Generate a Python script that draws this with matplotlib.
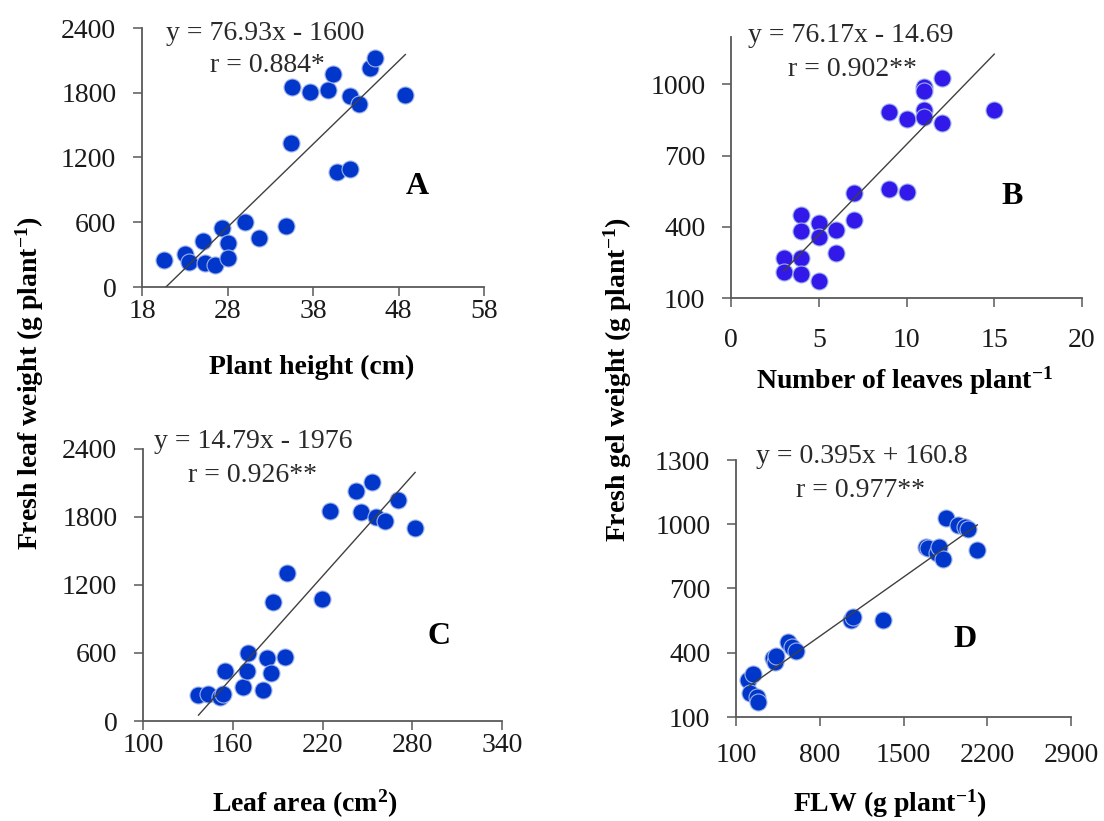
import matplotlib
matplotlib.use('Agg')
import matplotlib.pyplot as plt
import numpy as np

plt.rcParams['font.family'] = ['Liberation Serif', 'DejaVu Serif']
plt.rcParams['mathtext.fontset'] = 'custom'
plt.rcParams['mathtext.rm'] = 'Liberation Serif'
plt.rcParams['mathtext.bf'] = 'Liberation Serif:bold'
plt.rcParams['mathtext.it'] = 'Liberation Serif:italic'

# ---------------- data ----------------
# Panel A: plant height (cm) vs fresh leaf weight
a_x = [20.6, 23.0, 23.5, 25.1, 25.4, 26.5, 27.3, 28.0, 28.0, 30.0, 31.7, 34.8,
       35.4, 35.6, 37.7, 39.8, 40.3, 40.8, 42.3, 42.3, 43.4, 44.7, 45.2, 48.8]
a_y = [253, 308, 231, 422, 222, 206, 551, 407, 268, 601, 453, 567,
       1331, 1855, 1808, 1830, 1972, 1069, 1091, 1768, 1694, 2030, 2123, 1778]
a_fit = (76.93, -1600)

# Panel B: number of leaves vs fresh gel weight
b_x = [3, 3, 4, 4, 4, 4, 5, 5, 5, 6, 6, 7, 7, 9, 9, 10, 10, 11, 11, 11, 11, 12, 12, 15]
b_y = [269, 210, 449, 383, 269, 203, 416, 357, 172, 386, 290, 543, 428,
       885, 561, 854, 547, 990, 973, 892, 864, 1028, 838, 892]
b_fit = (76.17, -14.69)

# Panel C: leaf area vs fresh leaf weight
c_x = [137.1, 143.5, 151.3, 153.6, 155.1, 167.0, 169.2, 170.3, 180.4, 182.6, 185.9,
       187.1, 194.9, 196.4, 219.4, 225.0, 242.4, 245.8, 252.9, 255.8, 261.8, 270.3, 281.9]
c_y = [230, 236, 215, 236, 445, 297, 445, 604, 274, 554, 427,
       1054, 568, 1310, 1075, 1855, 2026, 1840, 2105, 1799, 1761, 1952, 1702]
c_fit = (14.79, -1976)

# Panel D: FLW vs fresh gel weight
d_x = [203, 217, 245, 278, 287, 406, 426, 434, 537, 565, 602, 1061, 1081, 1326,
       1688, 1708, 1777, 1800, 1833, 1855, 1958, 2014, 2042, 2117]
d_y = [271, 212, 303, 194, 170, 377, 357, 384, 451, 427, 409, 552, 568, 552,
       895, 887, 864, 895, 836, 1027, 996, 985, 976, 882]
d_fit = (0.395, 160.8)

a_xticks = [18, 28, 38, 48, 58]
a_yticks = [0, 600, 1200, 1800, 2400]
b_xticks = [0, 5, 10, 15, 20]
b_yticks = [100, 400, 700, 1000]
c_xticks = [100, 160, 220, 280, 340]
c_yticks = [0, 600, 1200, 1800, 2400]
d_xticks = [100, 800, 1500, 2200, 2900]
d_yticks = [100, 400, 700, 1000, 1300]

eq_texts = ['y = 76.93x - 1600', 'y = 76.17x - 14.69', 'y = 14.79x - 1976', 'y = 0.395x + 160.8']
r_texts = ['r = 0.884*', 'r = 0.902**', 'r = 0.926**', 'r = 0.977**']
panel_labels = ['A', 'B', 'C', 'D']

# ---------------- figure ----------------
W, H = 1104, 821
fig = plt.figure(figsize=(W / 100, H / 100), dpi=100)

def px(x, y):
    return x / W, 1 - y / H

def add_ax(l, t, r, b):
    return fig.add_axes([l / W, 1 - b / H, (r - l) / W, (b - t) / H])

blue1 = '#0036C9'
blue2 = '#3318EA'
spine_c = '#595959'

def style(ax, xlim, ylim, xt, yt, xpad):
    for s in ['top', 'right']:
        ax.spines[s].set_visible(False)
    for s in ['left', 'bottom']:
        ax.spines[s].set_color(spine_c)
        ax.spines[s].set_linewidth(1.3)
    ax.set_xlim(*xlim)
    ax.set_ylim(*ylim)
    ax.set_xticks(xt)
    ax.set_yticks(yt)
    ax.tick_params(axis='both', direction='out', length=6.5, width=1.1,
                   color=spine_c, labelsize=20, labelcolor='#1a1a1a')
    ax.tick_params(axis='y', pad=12)
    ax.tick_params(axis='x', pad=xpad)
    ax.patch.set_alpha(0)

def scatter_fit(ax, x, y, fit, color):
    x = np.asarray(x, float)
    ax.scatter(x, y, s=150, color=color, edgecolors='#9fb3ea', linewidths=0.8,
               zorder=2, clip_on=False)
    xs = np.array([x.min(), x.max()])
    ax.plot(xs, fit[0] * xs + fit[1], color='#404040', lw=1.0, zorder=3)

axA = add_ax(142, 28, 484, 287)
style(axA, (18, 58), (0, 2400), a_xticks, a_yticks, 2)
scatter_fit(axA, a_x, a_y, a_fit, blue1)

axB = add_ax(731, 37, 1082, 298)
style(axB, (0, 20), (100, 1200), b_xticks, b_yticks, 15)
scatter_fit(axB, b_x, b_y, b_fit, blue2)

axC = add_ax(143, 449, 502, 721)
style(axC, (100, 340), (0, 2400), c_xticks, c_yticks, 2)
scatter_fit(axC, c_x, c_y, c_fit, blue1)

axD = add_ax(736, 460, 1071, 717)
style(axD, (100, 2900), (100, 1300), d_xticks, d_yticks, 12)
scatter_fit(axD, d_x, d_y, d_fit, blue1)

# equations
eq_pos = [(265, 33), (851, 36), (253, 442), (862, 456)]
r_pos = [(267, 66), (852, 70), (253, 475), (861, 490)]
for t, p in zip(eq_texts, eq_pos):
    fig.text(*px(*p), t, fontsize=20, ha='center', va='center', color='#2a2a2a')
for t, p in zip(r_texts, r_pos):
    fig.text(*px(*p), t, fontsize=20, ha='center', va='center', color='#2a2a2a')

lab_pos = [(417, 187), (1012, 197), (439, 637), (965, 639)]
for t, p in zip(panel_labels, lab_pos):
    fig.text(*px(*p), t, fontsize=23, fontweight='bold', ha='center', va='center')

# axis titles
fig.text(*px(312, 367), 'Plant height (cm)', fontsize=20, fontweight='bold',
         ha='center', va='center')
fig.text(*px(905, 381), r'Number of leaves plant$^{\mathbf{-1}}$', fontsize=20,
         fontweight='bold', ha='center', va='center')
fig.text(*px(305, 804), r'Leaf area (cm$^{\mathbf{2}}$)', fontsize=20,
         fontweight='bold', ha='center', va='center')
fig.text(*px(890, 804), r'FLW (g plant$^{\mathbf{-1}}$)', fontsize=20,
         fontweight='bold', ha='center', va='center')
fig.text(*px(30, 383), r'Fresh leaf weight (g plant$^{\mathbf{-1}}$)', fontsize=20,
         fontweight='bold', ha='center', va='center', rotation=90)
fig.text(*px(618, 380), r'Fresh gel weight (g plant$^{\mathbf{-1}}$)', fontsize=20,
         fontweight='bold', ha='center', va='center', rotation=90)

fig.savefig('out.png', dpi=100, facecolor='white')
